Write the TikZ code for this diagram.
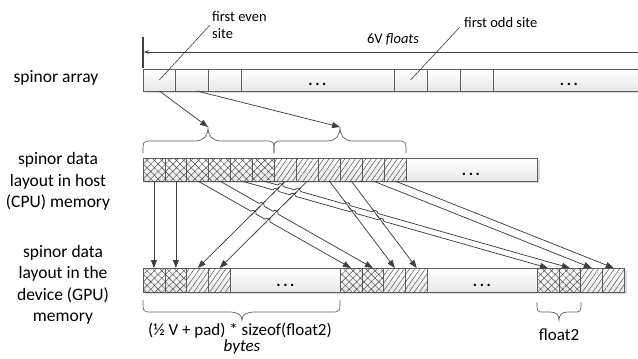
\documentclass[tikz,border=0pt]{standalone}
\usepackage{fontspec}
\setmainfont{Carlito}
\usetikzlibrary{patterns.meta,calc,intersections,arrows.meta}
\definecolor{bordc}{RGB}{95,95,95}
\definecolor{linec}{RGB}{64,64,64}
\definecolor{hatchc}{RGB}{72,72,72}
\tikzset{
  box/.style={draw=bordc, line width=0.7pt, top color=white, bottom color=black!9,
    inner sep=0pt, outer sep=0pt, anchor=north west},
  xcell/.style={box, minimum width=21.92pt, postaction={pattern color=hatchc,
    pattern={Hatch[angle=45,distance=5.2pt,line width=0.45pt]}}},
  scell/.style={box, minimum width=21.92pt, postaction={pattern color=hatchc,
    pattern={Lines[angle=55,distance=4.3pt,line width=0.45pt]}}},
  conn/.style={draw=linec, line width=0.75pt, -{Triangle[length=8pt,width=6pt]}},
  plain/.style={draw=linec, line width=0.75pt},
  lbl/.style={font=\fontsize{17.5}{21.5}\selectfont, align=center, inner sep=0pt},
  ann/.style={font=\fontsize{14.5}{16.5}\selectfont, align=left, inner sep=0pt},
  blbl/.style={font=\fontsize{17}{18}\selectfont, inner sep=0pt},
  dots/.style={font=\fontsize{16}{16}\selectfont\bfseries, inner sep=0pt},
  brc/.style={draw=bordc, line width=0.7pt},
  shd/.style={fill=black!14},
}
% brace: xa xb xm y0 yh yt r w
\newcommand\mybrace[8]{%
  \draw[brc] (#1,#4) .. controls (#1,#5) .. ({#1+#7},#5) -- ({#3-#8},#5)
    .. controls ({#3-0.3*#8},#5) and (#3,{#5+0.4*(#6-#5)}) .. (#3,#6)
    .. controls (#3,{#5+0.4*(#6-#5)}) and ({#3+0.3*#8},#5) .. ({#3+#8},#5)
    -- ({#2-#7},#5) .. controls (#2,#5) .. (#2,#4);}
% hop: hopper src, hopper dst, other src, other dst
\newcommand\hop[4]{%
  \path[name intersections={of=L#1 and L#3, by=hx}];
  \draw[white, line width=2.6pt] ($(hx)!2.8pt!(#1.south)$) -- ($(hx)!2.8pt!(#2.north)$);
  \draw[plain] ($(hx)!5pt!(#3.south)$) -- ($(hx)!5pt!(#4.north)$);
  \draw[plain] ($(hx)!2.8pt!(#1.south)$) to[bend left=90, looseness=1.3] ($(hx)!2.8pt!(#2.north)$);}
\begin{document}
\begin{tikzpicture}[x=1pt,y=-1pt]
\useasboundingbox (0,0) rectangle (638,359);
\fill[white] (0,0) rectangle (638,359);

% ---- left labels
\node[lbl] (la) at (56,78) {spinor array};
\node[lbl] (lh) at (58,181.5) {spinor data\\layout in host\\(CPU) memory};
\node[lbl] (ld) at (63,285) {spinor data\\layout in the\\device (GPU)\\memory};

% ---- shadows
\fill[shd] (145,71) rectangle (645,93);
\fill[shd] (145,160) rectangle (539.5,183);
\fill[shd] (145,270) rectangle (626.5,294);

% ---- top row (spinor array)
\node[box, minimum width=32.7pt, minimum height=22pt] (t1) at (143,69) {};
\node[box, minimum width=32.7pt, minimum height=22pt] (t2) at (175.7,69) {};
\node[box, minimum width=32.7pt, minimum height=22pt] (t3) at (208.4,69) {};
\node[box, minimum width=153pt, minimum height=22pt] (td1) at (241,69) {};
\node[box, minimum width=33pt, minimum height=22pt] (t4) at (394,69) {};
\node[box, minimum width=33pt, minimum height=22pt] (t5) at (427,69) {};
\node[box, minimum width=33pt, minimum height=22pt] (t6) at (460,69) {};
\node[box, minimum width=152pt, minimum height=22pt] (td2) at (493,69) {};
\node[dots] (td1x) at (317.5,84.5) {.\kern2.6pt.\kern2.6pt.};
\node[dots] (td2x) at (569,84.5) {.\kern2.6pt.\kern2.6pt.};

% ---- 6V floats
\coordinate (vb1) at (143,37);
\coordinate (vb2) at (143,68);
\draw[linec, line width=1.4pt] (vb1) -- (vb2);
\coordinate (arrR) at (645,52);
\coordinate (arrL) at (144,52);
\draw[plain, line width=0.6pt, -{Stealth[length=5pt,width=3.5pt]}] (arrR) -- (arrL);
\node[ann] (sixv) at (393,39.5) {6V \textit{floats}};

% ---- annotations
\node[ann, anchor=west] (fe) at (212,25) {first even\\site};
\node[ann, anchor=west] (fo) at (464,23) {first odd site};
\draw[plain, line width=0.6pt] ($(fe.west)+(-2,0)$) -- (t1.center);
\draw[plain, line width=0.6pt] ($(fo.west)+(-4,4)$) -- (t4.center);

% ---- host row
\foreach \i in {1,...,6} {
  \node[xcell, minimum height=23pt] (c\i) at ({143+(\i-1)*21.92},158) {};
  \node[scell, minimum height=23pt] (h\i) at ({143+(\i+5)*21.92},158) {};
}
\node[box, minimum width=131pt, minimum height=23pt] (hd) at (406,158) {};
\node[dots] (hdx) at (471,174) {.\kern2.6pt.\kern2.6pt.};

% ---- braces over host row
\coordinate (b1tip) at (208,127);
\coordinate (b2tip) at (340,127);
\mybrace{143}{274}{208}{153}{141}{127}{9}{13}
\mybrace{274}{406}{340}{153}{141}{127}{9}{13}
\draw[conn] (t1.south) -- (b1tip);
\draw[conn] ($(t2.south west)!0.65!(t2.south east)$) -- (b2tip);

% ---- device row
\foreach \g/\x in {1/143, 2/340, 3/537} {
  \node[xcell, minimum height=24pt] (g\g1) at (\x,268) {};
  \node[xcell, minimum height=24pt] (g\g2) at ({\x+21.92},268) {};
  \node[scell, minimum height=24pt] (g\g3) at ({\x+43.84},268) {};
  \node[scell, minimum height=24pt] (g\g4) at ({\x+65.76},268) {};
}
\node[box, minimum width=109.3pt, minimum height=24pt] (dd1) at (230.7,268) {};
\node[box, minimum width=109.3pt, minimum height=24pt] (dd2) at (427.7,268) {};
\node[dots] (dd1x) at (285.5,285) {.\kern2.6pt.\kern2.6pt.};
\node[dots] (dd2x) at (482,285) {.\kern2.6pt.\kern2.6pt.};

% ---- host -> device connectors
\foreach \src/\dst in {c1/g11, c2/g12, c3/g21, c4/g22, c5/g31, c6/g32,
                       h1/g13, h2/g14, h3/g23, h4/g24, h5/g33, h6/g34}
  \draw[conn, name path global=L\src] (\src.south) -- (\dst.north);

% ---- line hops
\hop{c3}{g21}{h1}{g13}
\hop{c3}{g21}{h2}{g14}
\hop{c4}{g22}{h1}{g13}
\hop{c4}{g22}{h2}{g14}
\hop{c5}{g31}{h1}{g13}
\hop{c5}{g31}{h2}{g14}
\hop{c5}{g31}{h3}{g23}
\hop{c5}{g31}{h4}{g24}
\hop{c6}{g32}{h1}{g13}
\hop{c6}{g32}{h2}{g14}
\hop{c6}{g32}{h3}{g23}
\hop{c6}{g32}{h4}{g24}

% ---- bottom braces and labels
\mybrace{143}{340}{242}{300}{312}{320}{9}{13}
\mybrace{537}{581}{559}{302}{312}{320}{7}{9}
\node[blbl] (sz) at (240,331) {(½ V + pad) * sizeof(float2)};
\node[blbl] (by) at (242,347) {\textit{bytes}};
\node[blbl] (f2) at (559,335) {float2};
\end{tikzpicture}
\end{document}
